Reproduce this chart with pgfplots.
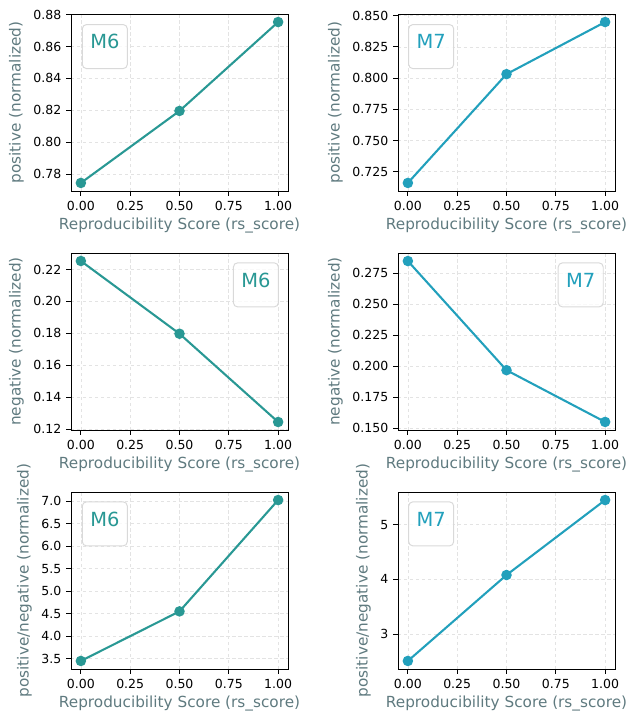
\documentclass[border=0pt]{standalone}
\usepackage{fontspec}
\setmainfont{DejaVu Sans}
\usepackage{pgfplots}
\pgfplotsset{compat=1.18}
\definecolor{csix}{HTML}{299894}
\definecolor{cseven}{HTML}{22A0BC}
\definecolor{labc}{HTML}{5F7A7F}
\tikzset{
  leg/.style={draw=black!15, line width=0.7pt, rounded corners=3pt, fill=white, fill opacity=0.8, text opacity=1,
    minimum width=32.4pt, minimum height=31.7pt, inner sep=0pt,
    label={[text=#1, font=\fontsize{14}{16}\selectfont, anchor=center, yshift=3.4pt]center:\legtext}},
}
\pgfplotsset{
  panel/.style={
    scale only axis, width=156.24pt, height=127.44pt,
    anchor=south west,
    xmin=-0.05, xmax=1.05, xtick={0,0.25,0.5,0.75,1},
    xticklabel style={/pgf/number format/fixed,/pgf/number format/fixed zerofill,/pgf/number format/precision=2},
    tick align=outside, tick pos=left, major tick length=3.5pt,
    ticklabel style={font=\fontsize{9}{10}\selectfont},
    /pgf/number format/assume math mode=true,
    grid=major, grid style={dash pattern=on 2.5pt off 1.8pt, black!11, line width=0.5pt},
    axis line style={line width=0.6pt},
    every tick/.style={black, line width=0.6pt},
    label style={font=\fontsize{11}{13}\selectfont, text=labc},
    xlabel={Reproducibility Score (rs\_score)},
    xlabel style={yshift=1pt},
  },
  yfmt/.style={yticklabel style={/pgf/number format/fixed,/pgf/number format/fixed zerofill,/pgf/number format/precision=#1}},
  ser/.style={color=#1, line width=1.5pt, mark=*, mark size=3pt, mark options={fill=#1, draw=#1}},
}
\begin{document}
\begin{tikzpicture}
\useasboundingbox (0,0) rectangle (452.88pt,521.28pt);
% Top-left
\begin{axis}[panel, at={(51.12pt,383.76pt)}, yfmt=2,
  ymin=0.76935, ymax=0.88045, ytick={0.78,0.80,0.82,0.84,0.86,0.88},
  ylabel={positive (normalized)}]
\addplot[ser=csix] coordinates {(0,0.7744) (0.5,0.8196) (1,0.8754)};
\def\legtext{M6}
\node[leg=csix, anchor=north west] at (rel axis cs:0.05,0.943) {};
\end{axis}
% Top-right
\begin{axis}[panel, at={(286.56pt,383.76pt)}, yfmt=3,
  ymin=0.70966, ymax=0.85134, ytick={0.725,0.75,0.775,0.8,0.825,0.85},
  ylabel={positive (normalized)}]
\addplot[ser=cseven] coordinates {(0,0.7161) (0.5,0.8032) (1,0.8449)};
\def\legtext{M7}
\node[leg=cseven, anchor=north west] at (rel axis cs:0.047,0.943) {};
\end{axis}
% Mid-left
\begin{axis}[panel, at={(51.12pt,211.68pt)}, yfmt=2,
  ymin=0.1196, ymax=0.2303, ytick={0.12,0.14,0.16,0.18,0.20,0.22},
  ylabel={negative (normalized)}]
\addplot[ser=csix] coordinates {(0,0.2253) (0.5,0.1798) (1,0.1246)};
\def\legtext{M6}
\node[leg=csix, anchor=north east] at (rel axis cs:0.958,0.947) {};
\end{axis}
% Mid-right
\begin{axis}[panel, at={(286.56pt,211.68pt)}, yfmt=3,
  ymin=0.14862, ymax=0.29118, ytick={0.15,0.175,0.2,0.225,0.25,0.275},
  ylabel={negative (normalized)}]
\addplot[ser=cseven] coordinates {(0,0.2847) (0.5,0.1968) (1,0.1551)};
\def\legtext{M7}
\node[leg=cseven, anchor=north east] at (rel axis cs:0.948,0.947) {};
\end{axis}
% Bottom-left
\begin{axis}[panel, at={(51.12pt,39.6pt)}, yfmt=1,
  ymin=3.2715, ymax=7.1985, ytick={3.5,4,4.5,5,5.5,6,6.5,7},
  ylabel={positive/negative (normalized)}]
\addplot[ser=csix] coordinates {(0,3.45) (0.5,4.55) (1,7.02)};
\def\legtext{M6}
\node[leg=csix, anchor=north west] at (rel axis cs:0.05,0.947) {};
\end{axis}
% Bottom-right
\begin{axis}[panel, at={(286.56pt,39.6pt)},
  yticklabel style={/pgf/number format/fixed,/pgf/number format/precision=0},
  ymin=2.363, ymax=5.597, ytick={3,4,5},
  ylabel={positive/negative (normalized)}]
\addplot[ser=cseven] coordinates {(0,2.51) (0.5,4.08) (1,5.45)};
\def\legtext{M7}
\node[leg=cseven, anchor=north west] at (rel axis cs:0.047,0.947) {};
\end{axis}
\end{tikzpicture}
\end{document}
